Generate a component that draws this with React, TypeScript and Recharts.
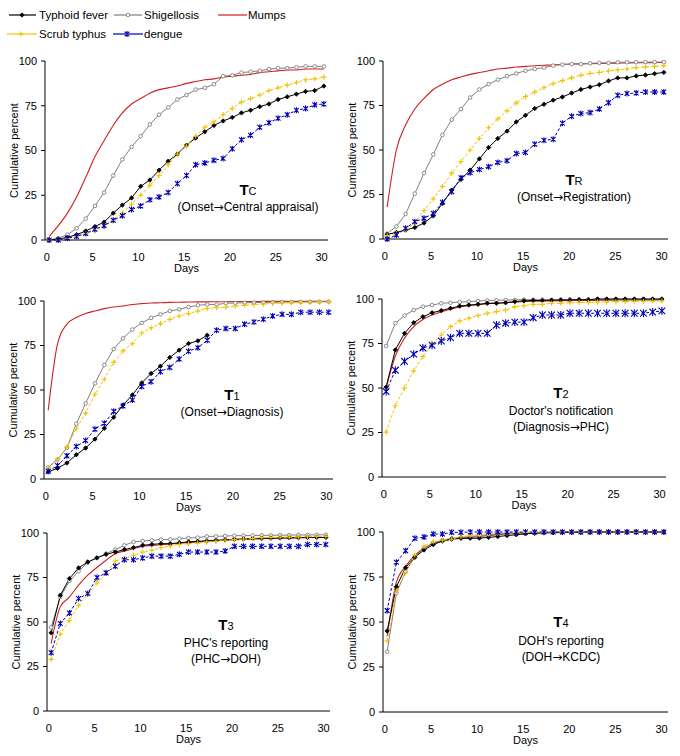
import React from 'react';
import { LineChart, Line, XAxis, YAxis } from 'recharts';

// ---------- data ----------
const days = [0, 1, 2, 3, 4, 5, 6, 7, 8, 9, 10, 11, 12, 13, 14, 15, 16, 17, 18, 19, 20, 21, 22, 23, 24, 25, 26, 27, 28, 29, 30];
const xTicks = [0, 5, 10, 15, 20, 25, 30];
const yTicks = [0, 25, 50, 75, 100];
const seriesNames = ['Typhoid fever', 'Shigellosis', 'Mumps', 'Scrub typhus', 'dengue'];

// Tc : Onset -> Central appraisal
const tcTyphoid = [0, 0.5, 1.5, 3, 5, 7.5, 10, 15, 19.5, 23.5, 30, 33.5, 39, 44, 48, 53, 57, 60.5, 64, 66.5, 68.5, 71, 72.5, 74.5, 76, 78.5, 80, 81.5, 83, 83.5, 86];
const tcShig = [0, 1, 3, 6.5, 12, 19, 26.5, 36, 45, 52, 58, 64.5, 70, 74, 78.5, 81, 84, 85, 87, 91.5, 92, 93.5, 94, 94.5, 95.5, 96, 96, 96.5, 97, 97, 97];
const tcMumps = [2, 8, 15, 24, 35, 46.5, 55.5, 64, 71, 76, 79, 82, 84, 85, 86, 87.5, 88.5, 89.5, 90, 91, 91.5, 92, 92.5, 93.5, 94, 94.5, 95, 95, 95.5, 95.5, 95.5];
const tcScrub = [0, 0, 1, 2, 3.7, 5, 7.5, 11, 15, 20, 25, 30.5, 36, 42, 48, 52.5, 58, 63, 66, 70, 73.5, 77, 79, 81, 83.5, 85, 86.5, 88, 89.5, 90, 91];
const tcDengue = [0, 0, 1, 2, 3.7, 6, 8, 11, 13.5, 17, 19, 22.5, 24, 26.5, 31.5, 36, 42, 43, 44.5, 45.5, 51, 56, 58.5, 63, 65.5, 68, 70, 72.5, 73.5, 75.5, 76];

// TR : Onset -> Registration
const trTyphoid = [2.6, 3.7, 5, 6.5, 9, 13, 20, 27.5, 33.5, 38.7, 45, 51.4, 56.5, 60.6, 65.8, 69.5, 73.3, 75.7, 78, 79.8, 82, 84, 85.4, 86.7, 88.8, 90.5, 90.5, 91.6, 92.1, 92.9, 93.6];
const trShig = [3, 7, 14, 25.5, 37, 47.5, 58.5, 67, 73, 79.5, 84, 87, 89.5, 91.5, 93, 94.5, 95.5, 96.3, 97.4, 98, 98.3, 98.3, 98.7, 98.9, 98.9, 99.3, 99.3, 99.3, 99.4, 99.4, 99.4];
const trMumps = [18, 50, 64, 73, 79, 84, 87, 89.5, 91, 92.5, 93.5, 94.5, 95.5, 96, 96.6, 97, 97.3, 97.6, 97.9, 98.1, 98.3, 98.4, 98.5, 98.6, 98.7, 98.8, 98.9, 99, 99, 99.1, 99.2];
const trScrub = [2, 3, 5, 9, 16, 22.5, 29.5, 37, 43.5, 50, 56.5, 62.5, 67.5, 72, 76.5, 80, 82.5, 85, 87.3, 89, 90.5, 92, 93, 93.6, 94.4, 95, 95.5, 96.3, 96.6, 97, 97.4];
const trDengue = [0, 2.2, 6, 9.7, 11.6, 14.4, 20.6, 26.5, 34.4, 37.2, 39, 40.6, 43, 44, 48, 48.6, 53.3, 55.5, 56, 65, 69, 70.5, 71, 73, 76.6, 80.7, 81.7, 82, 82.6, 82.6, 82.6];

// T1 : Onset -> Diagnosis
const t1Typhoid = [4, 6, 9, 13.6, 17.4, 22.4, 28.5, 34.7, 41.6, 47.2, 54, 59.3, 63.4, 68.3, 72.4, 76.1, 77.6, 80.8, null, null, null, null, null, null, null, null, null, null, null, null, null];
const t1Shig = [6.5, 11, 17.5, 31, 42.5, 53.7, 64, 73, 79, 84, 87.7, 90.5, 92.5, 94.4, 95.3, 96.6, 97.6, 98, 98, 98.7, 98.9, 99, 99.1, 99.2, 99.3, 99.4, 99.4, 99.5, 99.5, 99.6, 99.6];
const t1Mumps = [38.6, 76, 87, 90.7, 93, 94.4, 95.7, 96.6, 97.2, 98, 98.5, 98.9, 99, 99.2, 99.3, 99.4, 99.5, 99.5, 99.6, 99.6, 99.7, 99.7, 99.7, 99.8, 99.8, 99.8, 99.8, 99.8, 99.8, 99.8, 99.8];
const t1Scrub = [6.2, 10.8, 17.9, 28.2, 37, 47.6, 56, 65.5, 72, 76, 82, 84.9, 87.3, 89.7, 91.6, 92.9, 94.4, 95.7, 96.3, 96.6, 97.2, 97.6, 98, 98.3, 98.6, 98.8, 99, 99.1, 99.2, 99.4, 99.5];
const t1Dengue = [4.3, 7.6, 13, 18.3, 21.6, 28, 31.3, 38, 41, 44.4, 52, 54.7, 60.3, 62.7, 67.4, 71.8, 73.7, 78, 83.6, 84.5, 84.5, 87, 88.2, 89.7, 91.6, 92.5, 92.5, 93.7, 93.7, 93.7, 93.7];

// T2 : Diagnosis -> PHC
const t2Typhoid = [50.5, 71.4, 80.7, 86.7, 90, 92.3, 93.5, 94.8, 96, 96.6, 97, 97.6, 97.6, 97.9, 98.5, 99, 99.2, 99.2, 99.3, 99.4, 99.5, 99.6, 99.6, 100, 100, 100, 100, 100, 100, 100, 100];
const t2Shig = [73.6, 86.4, 90.7, 93.8, 95.7, 96.6, 97.6, 97.9, 98.3, 98.5, 98.9, 99.2, 99.3, 99.4, 99.5, 99.6, 99.6, 99.6, 99.6, 99.7, 99.7, 99.7, 99.7, 99.8, 99.8, 99.8, 99.8, 99.8, 99.8, 99.8, 99.8];
const t2Mumps = [50, 68, 78, 84.5, 88.5, 91, 92.7, 94.3, 95.5, 96.2, 96.8, 97.3, 97.7, 98, 98.3, 98.5, 98.7, 98.8, 98.9, 99, 99.1, 99.2, 99.2, 99.3, 99.3, 99.4, 99.4, 99.4, 99.5, 99.5, 99.5];
const t2Scrub = [25.2, 40, 50, 59.6, 67.7, 74.5, 79.8, 84.5, 87.7, 89.2, 90.7, 92, 92.9, 93.8, 95.7, 96.3, 97, 97, 97.6, 97.6, 97.9, 98.1, 98.1, 98.3, 98.3, 98.5, 98.5, 98.7, 98.7, 98.9, 99];
const t2Dengue = [48, 60, 65, 69, 72.5, 74, 76.4, 78.3, 80.7, 80.7, 80.7, 80.7, 85.4, 86.4, 87, 87, 89.5, 91, 91, 91, 92, 92, 92, 92, 92, 92, 92, 92, 92, 92.7, 93.3];

// T3 : PHC -> DOH
const t3Typhoid = [43.9, 65, 74.4, 80.4, 83.7, 86, 88, 89.3, 90.7, 91.8, 93.1, 93.6, 94, 94, 94.5, 95, 95.3, 95.6, 95.9, 96.2, 96.5, 96.7, 96.9, 97, 97.1, 97.2, 97.3, 97.4, 97.5, 97.5, 97.5];
const t3Shig = [47, 64, 73, 78.5, 83.5, 86, 88.4, 90.7, 93.1, 95, 95.5, 95.9, 96.3, 96.4, 96.8, 97.2, 97.4, 98.1, 98.1, 98.3, 98.5, 98.5, 98.6, 98.7, 98.7, 98.8, 98.8, 98.9, 98.9, 99, 99];
const t3Mumps = [38, 58.5, 64, 70.7, 76.3, 80.6, 84.7, 88.4, 89.9, 91.2, 92.5, 93, 93.4, 93.8, 94.2, 94.6, 95, 95.3, 95.6, 95.9, 96.2, 96.4, 96.6, 96.8, 97, 97.1, 97.2, 97.3, 97.4, 97.5, 97.5];
const t3Scrub = [29, 43.2, 51, 59.4, 65.7, 72, 77.2, 84.3, 85.6, 87.5, 89.3, 90.3, 91.8, 92.7, 93.6, 94, 94.4, 95, 95.3, 95.9, 96.3, 96.6, 97, 97.4, 97.5, 97.6, 97.7, 97.8, 97.9, 98, 98];
const t3Dengue = [32.7, 49.2, 55.1, 63.2, 66, 75, 77.6, 81.3, 85, 85, 86, 87, 87, 87, 88, 89.3, 89.3, 89.3, 89.3, 89.9, 92.5, 92.5, 92.5, 92.5, 92.5, 92.5, 92.5, 92.5, 93.5, 93.5, 93.5];

// T4 : DOH -> KCDC
const t4Typhoid = [45, 69.6, 80.2, 86, 90, 93, 95, 96, 96.5, 96.5, 96.6, 97, 97.5, 98, 98.5, 99, 99.3, 99.5, 99.6, 99.7, 99.8, 99.9, 100, 100, 100, 100, 100, 100, 100, 100, 100];
const t4Shig = [33.5, 66, 78, 86, 91, 94, 95.5, 96.5, 97, 97.5, 98, 98.5, 99, 99.3, 99.5, 99.6, 99.7, 99.8, 99.9, 100, 100, 100, 100, 100, 100, 100, 100, 100, 100, 100, 100];
const t4Mumps = [42, 72, 81, 87, 91, 93.5, 95, 96, 96.5, 97, 97.5, 98, 98.5, 99, 99.2, 99.4, 99.6, 99.7, 99.8, 99.9, 100, 100, 100, 100, 100, 100, 100, 100, 100, 100, 100];
const t4Scrub = [39.6, 67.2, 77.4, 87.2, 92.2, 94.6, 95.5, 96, 97.4, 98, 98.5, 99, 99.3, 99.5, 99.6, 99.7, 99.8, 99.9, 100, 100, 100, 100, 100, 100, 100, 100, 100, 100, 100, 100, 100];
const t4Dengue = [56.3, 83.2, 89.6, 96.5, 97.2, 98.9, 98.9, 99.8, 99.8, 100, 100, 100, 100, 100, 100, 100, 100, 100, 100, 100, 100, 100, 100, 100, 100, 100, 100, 100, 100, 100, 100];

// ---------- styles / layout ----------
const FONT = 'Arial, "Liberation Sans", sans-serif';
const ARROW_FONT = '"DejaVu Sans", sans-serif';
const X_SHIFT = 0.25; // points sit a little right of the day tick, as in the reference
const COLORS = { typhoid: '#000000', shig: '#808080', mumps: '#cc1f1f', scrub: '#f2c200', dengue: '#0000b4' };
const Y_AXIS_W = 45;
const M_TOP = 10;
const M_RIGHT = 10;
const X_AXIS_H = 40;

type Kind = 'diamond' | 'circle' | 'plus' | 'star';

function Marker({ kind, cx, cy, size = 2.5 }: { kind: Kind; cx: number; cy: number; size?: number }) {
  if (kind === 'diamond') {
    const s = 2.2;
    return <path d={`M${cx},${cy - s}L${cx + s},${cy}L${cx},${cy + s}L${cx - s},${cy}Z`} fill={COLORS.typhoid} stroke={COLORS.typhoid} strokeWidth={0.8} />;
  }
  if (kind === 'circle') {
    return <circle cx={cx} cy={cy} r={1.8} fill="#ffffff" stroke={COLORS.shig} strokeWidth={0.9} />;
  }
  if (kind === 'plus') {
    const s = 2.6;
    return <path d={`M${cx - s},${cy}H${cx + s}M${cx},${cy - s}V${cy + s}`} stroke={COLORS.scrub} strokeWidth={1.1} fill="none" />;
  }
  const s = size;
  return (
    <path
      d={`M${cx - s},${cy - s}L${cx + s},${cy + s}M${cx - s},${cy + s}L${cx + s},${cy - s}M${cx},${cy - s - 0.6}V${cy + s + 0.6}`}
      stroke={COLORS.dengue}
      strokeWidth={1.1}
      fill="none"
    />
  );
}

const dotFor = (kind: Kind, size?: number) => (p: any) => {
  const k = `${kind}-${p.index}`;
  if (p.value == null || p.cx == null || p.cy == null || Number.isNaN(p.cy)) return <g key={k} />;
  return <Marker key={k} kind={kind} cx={p.cx} cy={p.cy} size={size} />;
};

type PanelCfg = {
  id: string;
  plot: { left: number; top: number; right: number; bottom: number };
  typhoid: (number | null)[];
  shig: (number | null)[];
  mumps: (number | null)[];
  scrub: (number | null)[];
  dengue: (number | null)[];
  title: string;
  sub: string;
  titleX: number;
  titleY: number;
  lines: { text: string; y: number }[];
  starSize?: number;
};

const panels: PanelCfg[] = [
  {
    id: 'tc', plot: { left: 45, top: 61, right: 328, bottom: 240 },
    typhoid: tcTyphoid, shig: tcShig, mumps: tcMumps, scrub: tcScrub, dengue: tcDengue,
    title: 'T', sub: 'C', titleX: 248, titleY: 195, lines: [{ text: '(Onset\u2192Central appraisal)', y: 211 }],
  },
  {
    id: 'tr', plot: { left: 383, top: 61, right: 668, bottom: 239 },
    typhoid: trTyphoid, shig: trShig, mumps: trMumps, scrub: trScrub, dengue: trDengue,
    title: 'T', sub: 'R', titleX: 574, titleY: 185, lines: [{ text: '(Onset\u2192Registration)', y: 201 }],
  },
  {
    id: 't1', plot: { left: 44, top: 301, right: 333, bottom: 479 },
    typhoid: t1Typhoid, shig: t1Shig, mumps: t1Mumps, scrub: t1Scrub, dengue: t1Dengue,
    title: 'T', sub: '1', titleX: 232, titleY: 400, lines: [{ text: '(Onset\u2192Diagnosis)', y: 416 }],
  },
  {
    id: 't2', plot: { left: 382, top: 299, right: 666, bottom: 477 },
    typhoid: t2Typhoid, shig: t2Shig, mumps: t2Mumps, scrub: t2Scrub, dengue: t2Dengue,
    title: 'T', sub: '2', titleX: 561, titleY: 398,
    lines: [{ text: "Doctor's notification", y: 415 }, { text: '(Diagnosis\u2192PHC)', y: 431 }],
    starSize: 3.3,
  },
  {
    id: 't3', plot: { left: 47, top: 533, right: 330, bottom: 711 },
    typhoid: t3Typhoid, shig: t3Shig, mumps: t3Mumps, scrub: t3Scrub, dengue: t3Dengue,
    title: 'T', sub: '3', titleX: 226, titleY: 630,
    lines: [{ text: "PHC's reporting", y: 647 }, { text: '(PHC\u2192DOH)', y: 663 }],
  },
  {
    id: 't4', plot: { left: 383, top: 532, right: 668, bottom: 712 },
    typhoid: t4Typhoid, shig: t4Shig, mumps: t4Mumps, scrub: t4Scrub, dengue: t4Dengue,
    title: 'T', sub: '4', titleX: 561, titleY: 627,
    lines: [{ text: "DOH's reporting", y: 645 }, { text: '(DOH\u2192KCDC)', y: 661 }],
  },
];

function Panel({ cfg }: { cfg: PanelCfg }) {
  const { plot } = cfg;
  const width = plot.right - plot.left + Y_AXIS_W + M_RIGHT;
  const height = plot.bottom - plot.top + M_TOP + X_AXIS_H;
  const table = days.map((d, i) => ({
    x: d + X_SHIFT,
    typhoid: cfg.typhoid[i],
    shig: cfg.shig[i],
    mumps: cfg.mumps[i],
    scrub: cfg.scrub[i],
    dengue: cfg.dengue[i],
  }));
  const tickStyle = { fontSize: 11, fontFamily: FONT, fill: '#000' };
  return (
    <div style={{ position: 'absolute', left: plot.left - Y_AXIS_W, top: plot.top - M_TOP }}>
      <LineChart width={width} height={height} data={table} margin={{ top: M_TOP, right: M_RIGHT, bottom: 0, left: 0 }}>
        <XAxis
          type="number"
          dataKey="x"
          domain={[-0.2, 30.7]}
          ticks={xTicks}
          interval={0}
          allowDataOverflow
          height={X_AXIS_H}
          stroke="#000"
          tickLine={false}
          tickSize={6}
          tickMargin={7}
          tick={tickStyle}
        />
        <YAxis
          type="number"
          domain={[0, 100]}
          ticks={yTicks}
          interval={0}
          width={Y_AXIS_W}
          stroke="#000"
          tickSize={4}
          tickMargin={4}
          tick={tickStyle}
        />
        <Line dataKey="mumps" name={seriesNames[2]} type="monotone" stroke={COLORS.mumps} strokeWidth={1.1} dot={false} isAnimationActive={false} connectNulls={false} />
        <Line dataKey="shig" name={seriesNames[1]} type="linear" stroke={COLORS.shig} strokeWidth={1} dot={dotFor('circle')} isAnimationActive={false} />
        <Line dataKey="typhoid" name={seriesNames[0]} type="linear" stroke={COLORS.typhoid} strokeWidth={1} dot={dotFor('diamond')} isAnimationActive={false} />
        <Line dataKey="scrub" name={seriesNames[3]} type="linear" stroke={COLORS.scrub} strokeWidth={1} strokeDasharray="3 2" dot={dotFor('plus')} isAnimationActive={false} />
        <Line dataKey="dengue" name={seriesNames[4]} type="linear" stroke={COLORS.dengue} strokeWidth={1} strokeDasharray="3 2" dot={dotFor('star', cfg.starSize ?? 2.4)} isAnimationActive={false} />
      </LineChart>
    </div>
  );
}

// renders text with the arrow glyph taken from a font that draws it full width
function ArrowText({ text }: { text: string }) {
  const parts = text.split('\u2192');
  return (
    <>
      {parts.map((part, i) => (
        <React.Fragment key={i}>
          {i > 0 && <tspan fontFamily={ARROW_FONT}>{'\u2192'}</tspan>}
          <tspan>{part}</tspan>
        </React.Fragment>
      ))}
    </>
  );
}

function Overlay() {
  const legendRows: { name: string; color: string; kind: Kind | null; x1: number; x2: number; mx: number; tx: number; y: number }[] = [
    { name: seriesNames[0], color: COLORS.typhoid, kind: 'diamond', x1: 9, x2: 36, mx: 22, tx: 39, y: 15 },
    { name: seriesNames[1], color: COLORS.shig, kind: 'circle', x1: 114, x2: 142, mx: 128, tx: 144, y: 15 },
    { name: seriesNames[2], color: COLORS.mumps, kind: null, x1: 218, x2: 247, mx: 0, tx: 248, y: 15 },
    { name: seriesNames[3], color: COLORS.scrub, kind: 'plus', x1: 7, x2: 37, mx: 21, tx: 39, y: 34 },
    { name: seriesNames[4], color: COLORS.dengue, kind: 'star', x1: 113, x2: 143, mx: 127, tx: 144, y: 34 },
  ];
  return (
    <svg width={680} height={756} style={{ position: 'absolute', left: 0, top: 0, pointerEvents: 'none' }} fontFamily={FONT}>
      {legendRows.map((r) => (
        <g key={r.name}>
          <line x1={r.x1} y1={r.y} x2={r.x2} y2={r.y} stroke={r.color} strokeWidth={1.2} />
          {r.kind && <Marker kind={r.kind} cx={r.mx} cy={r.y} size={2.4} />}
          <text x={r.tx} y={r.y + 4} fontSize={11.5} fill="#000">{r.name}</text>
        </g>
      ))}
      {panels.map((p) => {
        const cx = p.plot.left + (p.plot.right - p.plot.left) / 2;
        const ly = p.plot.left - 31;
        const lyc = p.plot.top + (p.plot.bottom - p.plot.top) / 2;
        return (
          <g key={p.id}>
            <text x={cx} y={p.plot.bottom + 32} fontSize={11} textAnchor="middle" fill="#000">Days</text>
            <text
              x={ly}
              y={lyc}
              fontSize={11}
              textAnchor="middle"
              dominantBaseline="central"
              transform={`rotate(-90 ${ly} ${lyc})`}
              fill="#000"
            >
              Cumulative percent
            </text>
            <text x={p.titleX} y={p.titleY} textAnchor="middle" fill="#000">
              <tspan fontSize={15} fontWeight="bold">{p.title}</tspan>
              <tspan fontSize={11}>{p.sub}</tspan>
            </text>
            {p.lines.map((l) => (
              <text key={l.text} x={p.titleX} y={l.y} fontSize={12} textAnchor="middle" fill="#000">
                <ArrowText text={l.text} />
              </text>
            ))}
          </g>
        );
      })}
    </svg>
  );
}

export default function App() {
  return (
    <div style={{ position: 'absolute', left: 0, top: 0, width: 680, height: 756, background: '#ffffff', overflow: 'hidden' }}>
      {panels.map((p) => (
        <Panel key={p.id} cfg={p} />
      ))}
      <Overlay />
    </div>
  );
}
